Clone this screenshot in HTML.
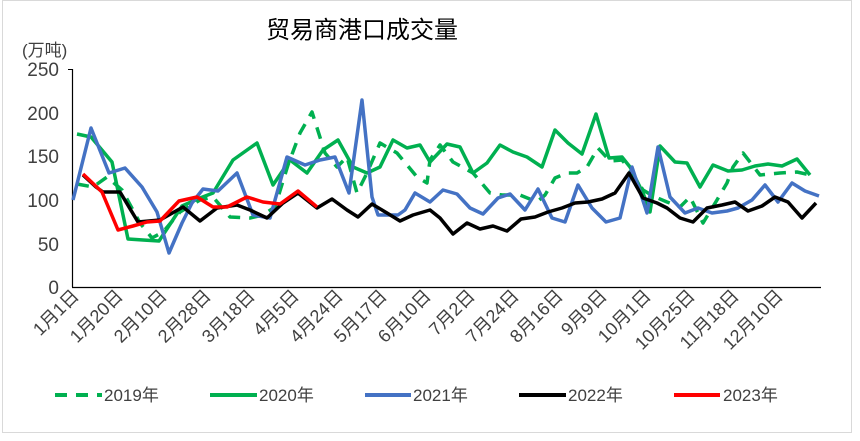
<!DOCTYPE html>
<html><head><meta charset="utf-8"><style>
body{margin:0;background:#fff;}
svg{display:block;font-family:"Liberation Sans","Noto Sans CJK SC",sans-serif;}
</style></head><body>
<svg width="860" height="441" viewBox="0 0 860 441">
<rect x="2.5" y="0.5" width="849" height="432" fill="#fff" stroke="#d9d9d9"/>
<text x="362" y="38" font-size="24" text-anchor="middle" fill="#000">贸易商港口成交量</text>
<text x="22" y="56" font-size="17" fill="#404040">(万吨)</text>
<g font-size="19" fill="#404040" text-anchor="end">
<text x="59" y="76">250</text><text x="59" y="120">200</text><text x="59" y="163">150</text>
<text x="59" y="207">100</text><text x="59" y="251">50</text><text x="59" y="294">0</text>
</g>
<line x1="72.5" y1="69" x2="72.5" y2="287" stroke="#000" stroke-width="1.2"/>
<line x1="72" y1="287.5" x2="821" y2="287.5" stroke="#000" stroke-width="1.2"/>
<line x1="68" y1="69.5" x2="72" y2="69.5" stroke="#000"/>
<g font-size="18" fill="#404040" text-anchor="end">
<text transform="translate(80,297) rotate(-45)">1月1日</text>
<text transform="translate(124,297) rotate(-45)">1月20日</text>
<text transform="translate(168,297) rotate(-45)">2月10日</text>
<text transform="translate(212,297) rotate(-45)">2月28日</text>
<text transform="translate(256,297) rotate(-45)">3月18日</text>
<text transform="translate(300,297) rotate(-45)">4月5日</text>
<text transform="translate(344,297) rotate(-45)">4月24日</text>
<text transform="translate(388,297) rotate(-45)">5月17日</text>
<text transform="translate(432,297) rotate(-45)">6月10日</text>
<text transform="translate(476,297) rotate(-45)">7月2日</text>
<text transform="translate(520,297) rotate(-45)">7月24日</text>
<text transform="translate(564,297) rotate(-45)">8月16日</text>
<text transform="translate(608,297) rotate(-45)">9月9日</text>
<text transform="translate(652,297) rotate(-45)">10月1日</text>
<text transform="translate(696,297) rotate(-45)">10月25日</text>
<text transform="translate(740,297) rotate(-45)">11月18日</text>
<text transform="translate(784,297) rotate(-45)">12月10日</text>
</g>
<g fill="none" stroke-width="3.5" stroke-linejoin="round">
<polyline stroke="#00b050" stroke-dasharray="12,9" points="77,184 93,187 107,177 122,190 140,223 152,238 163,232 180,212 200,200 213,197 230,217 250,218 263,215 275,207 288,165 300,133 312,112 325,153 337,167 347,157 357,193 367,173 380,143 397,153 417,177 427,183 430,160 440,145 453,162 473,173 490,193 502,195 520,195 537,202 545,195 555,178 567,173 577,173 587,167 598,148 610,161 622,160 630,170 643,190 653,196 667,202 680,207 690,197 703,223 717,200 727,183 733,167 743,153 760,175 780,173 797,172 810,175"/>
<polyline stroke="#00b050" points="77,134 91,137 112,162 128,239 143,240 159,241 182,206 200,198 213,193 233,160 257,143 273,185 290,160 307,173 323,150 338,140 353,167 367,173 380,167 393,140 407,148 420,145 430,162 447,144 460,147 473,173 487,163 500,145 513,152 527,157 542,167 555,130 568,143 582,154 596,114 609,158 622,157 630,167 643,193 650,212 660,146 675,162 687,163 700,187 713,165 728,171 742,170 755,166 768,164 782,166 797,159 810,175"/>
<polyline stroke="#4472c4" points="73,200 91,128 109,173 125,168 142,187 157,212 169,253 182,223 192,203 203,189 218,191 237,173 253,215 270,218 287,157 305,165 320,160 335,157 349,193 362,100 372,197 378,215 398,215 405,210 415,193 430,202 443,190 457,194 470,208 483,214 498,198 510,194 525,210 538,189 552,218 565,222 578,185 592,208 606,222 620,218 632,167 647,213 658,147 670,197 685,213 698,208 712,213 727,211 738,208 752,200 765,185 778,202 792,183 805,191 819,196"/>
<polyline stroke="#000" points="83,175 96,187 103,192 120,192 138,222 160,220 183,207 200,221 217,208 237,205 250,210 267,218 283,203 298,193 317,208 332,199 347,210 358,217 372,204 387,213 400,221 413,215 430,210 440,218 453,234 467,223 480,229 493,226 507,231 521,219 535,217 548,212 562,208 575,203 588,202 602,199 615,193 629,173 643,198 657,203 667,208 680,218 693,222 707,208 722,205 735,202 748,211 762,206 775,197 788,202 802,218 816,203"/>
<polyline stroke="#ff0000" points="83,174 102,192 118,230 133,226 147,222 160,221 179,201 197,197 213,207 227,207 247,197 263,202 280,204 298,191 317,207"/>
</g>
<g stroke-width="4" fill="none">
<line x1="55" y1="395" x2="102" y2="395" stroke="#00b050" stroke-dasharray="12,9"/>
<line x1="210" y1="395" x2="257" y2="395" stroke="#00b050"/>
<line x1="365" y1="395" x2="411" y2="395" stroke="#4472c4"/>
<line x1="519" y1="395" x2="566" y2="395" stroke="#000"/>
<line x1="674" y1="395" x2="720" y2="395" stroke="#ff0000"/>
</g>
<g font-size="17" fill="#404040">
<text x="104" y="401">2019年</text><text x="259" y="401">2020年</text>
<text x="413" y="401">2021年</text><text x="568" y="401">2022年</text><text x="723" y="401">2023年</text>
</g>
</svg>
</body></html>
